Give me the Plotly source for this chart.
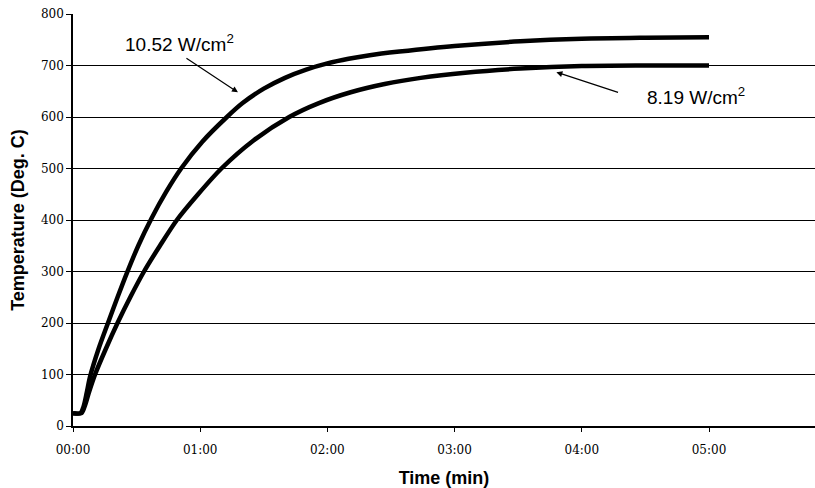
import plotly.graph_objects as go

# Time in seconds, temperature in deg C
t_high = [0, 3.5, 5, 6.5, 8, 12, 16.5, 21, 25.4, 31, 37, 44, 51, 61, 72.6, 80, 90, 100, 110, 120, 130, 140, 154, 180, 211, 240, 270, 300]
T_high = [25, 25, 38, 65, 95, 149, 200, 250, 297, 352, 403, 455, 500, 552, 600, 627, 655, 676, 692, 704, 713, 720, 727, 738, 747, 752, 754, 755]

t_low = [0, 4, 5.5, 7.5, 10.4, 15.5, 21, 27, 33.5, 41, 49, 59, 70, 85, 102, 116, 131, 147, 164, 185, 211, 240, 270, 300]
T_low = [25, 25, 38, 65, 100, 150, 200, 250, 300, 350, 400, 450, 500, 554, 600, 627, 648, 664, 676, 686, 694, 699, 700, 700]

x_tickvals = [0, 60, 120, 180, 240, 300]
x_ticktext = ["00:00", "01:00", "02:00", "03:00", "04:00", "05:00"]
y_tickvals = [0, 100, 200, 300, 400, 500, 600, 700, 800]

label_high = "10.52 W/cm<sup>2</sup>"
label_low = "8.19 W/cm<sup>2</sup>"

fig = go.Figure()
for t, T in [(t_high, T_high), (t_low, T_low)]:
    fig.add_trace(go.Scatter(x=t, y=T, mode="lines",
                             line=dict(color="black", width=4.5, shape="spline", smoothing=0.8),
                             showlegend=False, hoverinfo="skip"))

tickfont = dict(family="DejaVu Serif", size=12, color="black")
titlefont = dict(family="Arial, Liberation Sans", size=18, color="black")

fig.update_layout(
    width=815, height=488,
    margin=dict(l=73, r=0, t=14, b=62),
    paper_bgcolor="white", plot_bgcolor="white",
    xaxis=dict(range=[0, 350], tickvals=x_tickvals, ticktext=x_ticktext,
               showgrid=False, zeroline=False, showline=True, linecolor="black", linewidth=1.5,
               ticks="outside", ticklen=4, tickcolor="black", tickfont=tickfont,
               ticklabelstandoff=8,
               title=dict(text="<b>Time (min)</b>", font=titlefont, standoff=16)),
    yaxis=dict(range=[0, 800], tickvals=y_tickvals,
               showgrid=True, gridcolor="black", gridwidth=1.2, zeroline=False,
               showline=True, linecolor="black", linewidth=1.5,
               ticks="outside", ticklen=5, tickcolor="black", tickfont=tickfont,
               title=dict(text="<b>Temperature (Deg. C)</b>", font=titlefont, standoff=12)),
)

annfont = dict(family="Arial, Liberation Sans", size=19, color="black")
fig.add_annotation(x=50.4, y=744, text=label_high, showarrow=False, font=annfont)
fig.add_annotation(x=293.9, y=640, text=label_low, showarrow=False, font=annfont)
fig.add_annotation(x=77.8, y=648, ax=52.8, ay=716, axref="x", ayref="y", text="",
                   showarrow=True, arrowhead=2, arrowsize=1, arrowwidth=1.2, arrowcolor="black")
fig.add_annotation(x=228, y=687, ax=257.8, ay=647, axref="x", ayref="y", text="",
                   showarrow=True, arrowhead=2, arrowsize=1, arrowwidth=1.2, arrowcolor="black")

fig.write_html("out.html")
